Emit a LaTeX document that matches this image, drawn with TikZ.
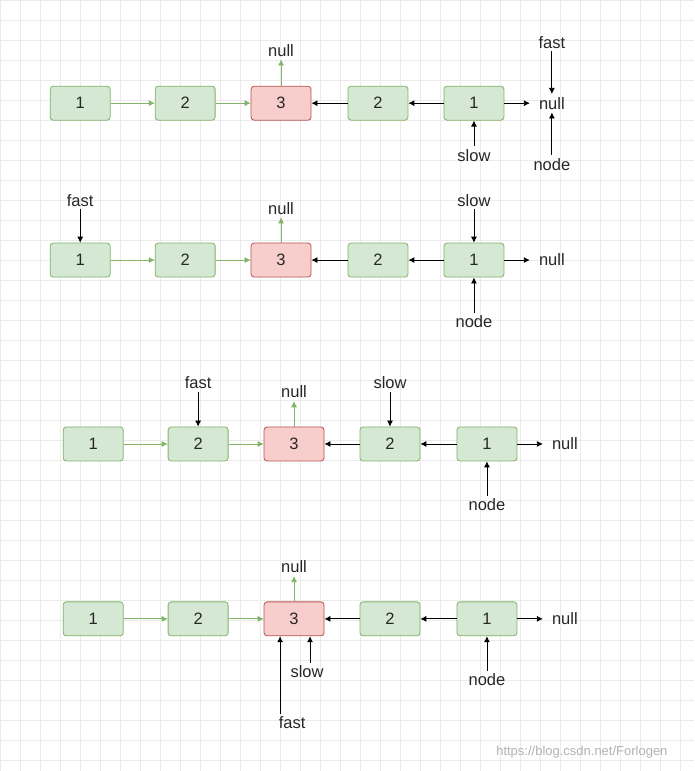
\documentclass[tikz,border=0pt]{standalone}
\usepackage{fontspec}
\setmainfont{Liberation Sans}
\usetikzlibrary{arrows.meta}
\definecolor{gf}{HTML}{D5E8D4}\definecolor{gs}{HTML}{82B366}
\definecolor{rf}{HTML}{F8CECC}\definecolor{rs}{HTML}{B85450}
\begin{document}
\begin{tikzpicture}[x=1pt,y=-1pt,
  g/.style={draw=gs,fill=gf,rounded corners=3pt,minimum width=60pt,minimum height=34pt,inner sep=0pt,line width=0.8pt},
  r/.style={draw=rs,fill=rf,rounded corners=3pt,minimum width=60pt,minimum height=34pt,inner sep=0pt,line width=0.8pt},
  t/.style={inner sep=3pt},
  ga/.style={draw=gs,line width=0.8pt,-{Latex[length=6pt,width=6pt]}},
  ba/.style={draw=black,line width=0.8pt,-{Latex[length=6pt,width=6pt]}},
  every node/.style={font=\fontsize{16.5}{19}\selectfont,text=black!85}]
\fill[white] (0,0) rectangle (694,771);
\draw[black!8,line width=0.5pt,step=20pt] (0,0) grid (694,771);
\useasboundingbox (0,0) rectangle (694,771);
% row 1
\node[g] (a1) at (80,103) {1};\node[g] (a2) at (185,103) {2};\node[r] (a3) at (281,103) {3};
\node[g] (a4) at (378,103) {2};\node[g] (a5) at (474,103) {1};
\node[t] (an) at (281,50) {null};\node[t,inner xsep=9pt] (ar) at (552,103) {null};
\node[t] (af) at (552,42) {fast};\node[t] (ad) at (552,164) {node};\node[t] (as) at (474,155) {slow};
\draw[ga] (a1)--(a2);\draw[ga] (a2)--(a3);\draw[ga] (a3)--(an);
\draw[ba] (a4)--(a3);\draw[ba] (a5)--(a4);\draw[ba] (a5)--(ar);
\draw[ba] (af)--(ar);\draw[ba] (ad)--(ar);\draw[ba] (as)--(a5);
% row 2
\node[g] (b1) at (80,260) {1};\node[g] (b2) at (185,260) {2};\node[r] (b3) at (281,260) {3};
\node[g] (b4) at (378,260) {2};\node[g] (b5) at (474,260) {1};
\node[t] (bn) at (281,208) {null};\node[t,inner xsep=9pt] (br) at (552,260) {null};
\node[t] (bf) at (80,200) {fast};\node[t] (bs) at (474,200) {slow};\node[t] (bd) at (474,322) {node};
\draw[ga] (b1)--(b2);\draw[ga] (b2)--(b3);\draw[ga] (b3)--(bn);
\draw[ba] (b4)--(b3);\draw[ba] (b5)--(b4);\draw[ba] (b5)--(br);
\draw[ba] (bf)--(b1);\draw[ba] (bs)--(b5);\draw[ba] (bd)--(b5);
% row 3
\node[g] (c1) at (93,444) {1};\node[g] (c2) at (198,444) {2};\node[r] (c3) at (294,444) {3};
\node[g] (c4) at (390,444) {2};\node[g] (c5) at (487,444) {1};
\node[t] (cn) at (294,392) {null};\node[t,inner xsep=9pt] (cr) at (565,444) {null};
\node[t] (cf) at (198,383) {fast};\node[t] (cs) at (390,383) {slow};\node[t] (cd) at (487,505) {node};
\draw[ga] (c1)--(c2);\draw[ga] (c2)--(c3);\draw[ga] (c3)--(cn);
\draw[ba] (c4)--(c3);\draw[ba] (c5)--(c4);\draw[ba] (c5)--(cr);
\draw[ba] (cf)--(c2);\draw[ba] (cs)--(c4);\draw[ba] (cd)--(c5);
% row 4
\node[g] (d1) at (93,619) {1};\node[g] (d2) at (198,619) {2};\node[r] (d3) at (294,619) {3};
\node[g] (d4) at (390,619) {2};\node[g] (d5) at (487,619) {1};
\node[t] (dn) at (294,567) {null};\node[t,inner xsep=9pt] (dr) at (565,619) {null};
\node[t] (ds) at (307,672) {slow};\node[t] (df) at (292,723) {fast};\node[t] (dd) at (487,680) {node};
\draw[ga] (d1)--(d2);\draw[ga] (d2)--(d3);\draw[ga] (d3)--(dn);
\draw[ba] (d4)--(d3);\draw[ba] (d5)--(d4);\draw[ba] (d5)--(dr);
\draw[ba] (ds.north -| 310,0)--(d3.south -| 310,0);
\draw[ba] (df.north -| 280,0)--(d3.south -| 280,0);
\draw[ba] (dd)--(d5);
\node[text=black!30,font=\fontsize{13}{15}\selectfont] (wm) at (582,752) {https://blog.csdn.net/Forlogen};
\end{tikzpicture}
\end{document}
